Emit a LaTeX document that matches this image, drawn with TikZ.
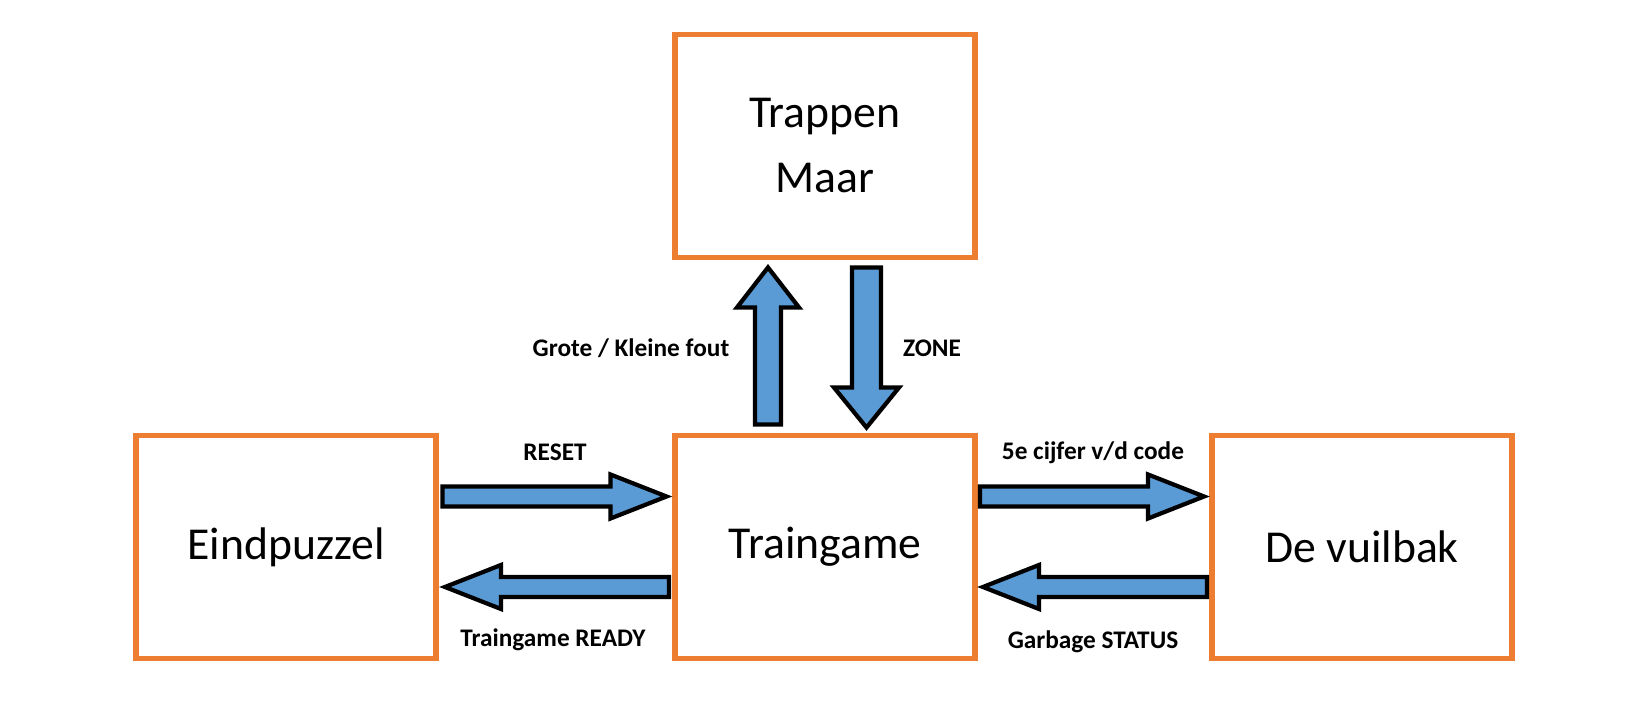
\documentclass[tikz,border=0pt]{standalone}
\usepackage{fontspec}
\setmainfont{Carlito}
\usetikzlibrary{positioning}

\definecolor{boxorange}{RGB}{237,125,49}
\definecolor{arrowblue}{RGB}{91,155,213}

\begin{document}
\begin{tikzpicture}[
    box/.style={draw=boxorange,line width=1.45pt,minimum width=3cm,minimum height=2.23cm,
                inner sep=0pt,align=center,font=\fontsize{13}{18.5}\selectfont},
    fat/.style={draw=black,line width=1.2pt,fill=arrowblue,line join=miter},
    lbl/.style={font=\fontsize{7.2}{8}\selectfont\bfseries}]
\useasboundingbox (0,0) rectangle (16.5,-7.08);

\node [box] (trappen) at ( 8.25,-1.46) {Trappen\\Maar};
\node [box] (train)   at ( 8.25,-5.47) {Traingame};
\node [box] (eind)    at ( 2.86,-5.47) {Eindpuzzel};
\node [box] (vuil)    at (13.62,-5.47) {De vuilbak};

% left pair
\draw[fat]
      (eind.east  |- 0,-4.965) ++( .04,0)
    -- ++(0, .1) -- ++( 1.68,0) -- ++(0, .12) -- ++( .56,-.22)
    -- ++(- .56,-.22) -- ++(0, .12) -- ++(-1.68,0) -- cycle;
\draw[fat]
      (train.west |- 0,-5.87) ++(-.035,0)
    -- ++(0, .1) -- ++(-1.68,0) -- ++(0, .12) -- ++(-.56,-.22)
    -- ++( .56,-.22) -- ++(0, .12) -- ++( 1.68,0) -- cycle;

% right pair
\draw[fat]
      (train.east |- 0,-4.965) ++( .025,0)
    -- ++(0, .1) -- ++( 1.68,0) -- ++(0, .12) -- ++( .56,-.22)
    -- ++(- .56,-.22) -- ++(0, .12) -- ++(-1.68,0) -- cycle;
\draw[fat]
      (vuil.west  |- 0,-5.87) ++(-.025,0)
    -- ++(0, .1) -- ++(-1.68,0) -- ++(0, .12) -- ++(-.56,-.22)
    -- ++( .56,-.22) -- ++(0, .12) -- ++( 1.68,0) -- cycle;

% up and down
\draw[fat]
      (train.north   -| 7.68,0) ++(0, .085)
    -- ++( .13,0) -- ++(0, 1.17) -- ++( .18,0) -- ++(-.31, .40)
    -- ++(-.31,-.40) -- ++( .18,0) -- ++(0,-1.17) -- cycle;
\draw[fat]
      (trappen.south -| 8.665,0) ++(0,-.075)
    -- ++( .145,0) -- ++(0,-1.2) -- ++( .18,0) -- ++(-.325,-.40)
    -- ++(-.325, .40) -- ++( .18,0) -- ++(0, 1.2) -- cycle;

\path
      ( 5.55,-4.52) node [lbl] (reset)   {RESET}
      ( 5.53,-6.40) node [lbl] (ready)   {Traingame READY}
      (10.93,-4.53) node [lbl] (cijfer)  {5e cijfer v/d code}
      (10.93,-6.42) node [lbl] (garbage) {Garbage STATUS}
      ( 6.31,-3.48) node [lbl] (fout)    {Grote / Kleine fout}
      ( 9.32,-3.48) node [lbl] (zone)    {ZONE};
\end{tikzpicture}
\end{document}
